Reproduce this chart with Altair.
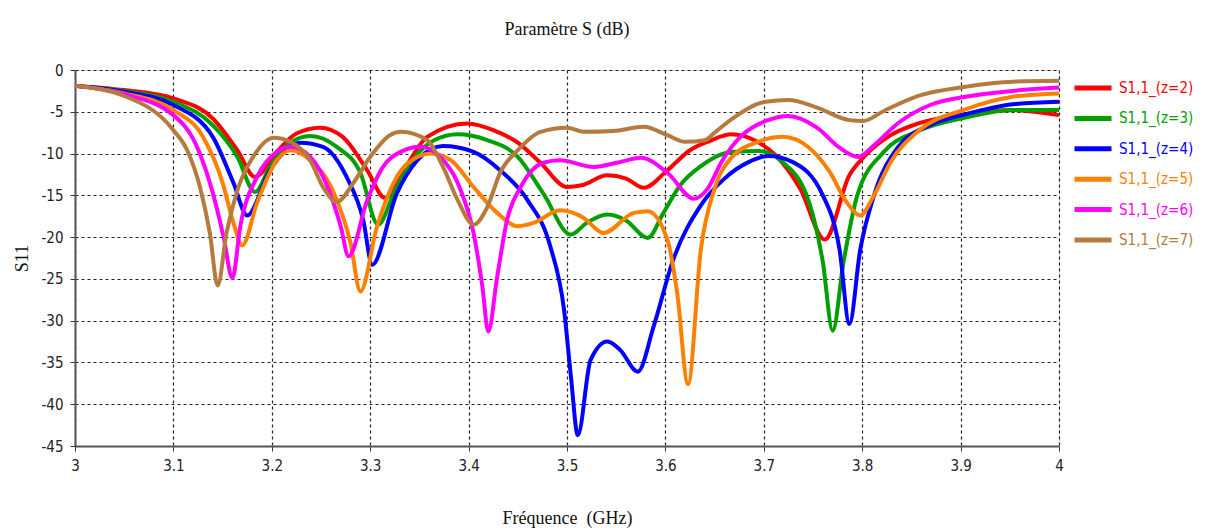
import altair as alt
import pandas as pd

names = ["S1,1_(z=2)", "S1,1_(z=3)", "S1,1_(z=4)", "S1,1_(z=5)", "S1,1_(z=6)", "S1,1_(z=7)"]
colors = ["#FF0000", "#00A000", "#0000FF", "#FF8000", "#FF00FF", "#B57B3E"]

f_z2 = [3.0, 3.05, 3.1, 3.14, 3.165, 3.183, 3.205, 3.225, 3.249, 3.272, 3.297, 3.315, 3.334, 3.358, 3.399,
        3.425, 3.45, 3.473, 3.5, 3.515, 3.541, 3.56, 3.578, 3.602, 3.625, 3.645, 3.667, 3.692, 3.712, 3.737,
        3.762, 3.787, 3.801, 3.829, 3.857, 3.905, 3.953, 4.0]
s_z2 = [-1.9, -2.4, -3.4, -5.8, -9.6, -12.8, -9.8, -7.6, -6.9, -8.0, -12.0, -15.3, -12.0, -8.0, -6.4,
        -7.2, -8.7, -11.1, -14.0, -13.8, -12.6, -13.0, -14.1, -12.0, -9.6, -8.5, -7.7, -8.5, -10.2, -14.2,
        -20.3, -12.6, -10.5, -7.8, -6.4, -5.3, -4.8, -5.4]

f_z3 = [3.0, 3.05, 3.1, 3.14, 3.165, 3.183, 3.198, 3.219, 3.239, 3.266, 3.29, 3.308, 3.325, 3.345, 3.365,
        3.389, 3.419, 3.45, 3.476, 3.504, 3.52, 3.541, 3.56, 3.582, 3.598, 3.615, 3.636, 3.667, 3.695, 3.719,
        3.746, 3.76, 3.77, 3.781, 3.795, 3.822, 3.857, 3.905, 3.953, 4.0]
s_z3 = [-1.9, -2.5, -3.8, -6.6, -10.4, -14.6, -11.6, -8.7, -7.9, -9.2, -12.3, -18.5, -14.5, -10.5, -8.4,
        -7.7, -8.4, -10.4, -14.8, -19.7, -18.3, -17.3, -18.0, -20.1, -17.1, -13.8, -11.5, -9.8, -9.7, -11.0,
        -15.8, -23.0, -31.2, -23.0, -15.0, -9.8, -7.3, -5.7, -4.8, -4.8]

f_z4 = [3.0, 3.05, 3.1, 3.14, 3.161, 3.175, 3.198, 3.229, 3.252, 3.276, 3.293, 3.302, 3.327, 3.348, 3.374,
        3.405, 3.432, 3.46, 3.483, 3.497, 3.504, 3.511, 3.524, 3.541, 3.554, 3.572, 3.588, 3.608, 3.636, 3.66,
        3.685, 3.705, 3.729, 3.76, 3.777, 3.787, 3.798, 3.812, 3.836, 3.871, 3.905, 3.953, 4.0]
s_z4 = [-1.9, -2.6, -4.2, -8.0, -13.5, -17.4, -12.0, -8.7, -9.2, -12.8, -18.0, -23.3, -14.8, -10.8, -9.1,
        -9.8, -12.0, -15.6, -21.1, -28.7, -36.7, -43.7, -34.7, -32.5, -33.5, -36.1, -30.7, -22.7, -16.2, -13.0,
        -11.0, -10.3, -11.0, -15.0, -21.5, -30.4, -21.5, -15.0, -9.3, -6.5, -5.3, -4.1, -3.8]

f_z5 = [3.0, 3.05, 3.1, 3.13, 3.15, 3.161, 3.17, 3.185, 3.205, 3.219, 3.239, 3.263, 3.28, 3.29, 3.307,
        3.327, 3.348, 3.361, 3.382, 3.405, 3.429, 3.45, 3.466, 3.493, 3.517, 3.537, 3.568, 3.582, 3.602, 3.612,
        3.623, 3.636, 3.65, 3.667, 3.692, 3.719, 3.746, 3.767, 3.784, 3.798, 3.812, 3.829, 3.857, 3.905, 3.953, 4.0]
s_z5 = [-1.9, -2.8, -4.8, -8.0, -13.5, -18.3, -21.0, -15.9, -10.8, -9.6, -10.8, -14.7, -20.7, -26.5, -18.7,
        -12.8, -10.4, -10.0, -10.8, -14.0, -17.1, -18.7, -18.3, -16.8, -17.7, -19.5, -17.1, -16.9, -20.3, -26.7,
        -37.6, -21.5, -14.2, -10.5, -8.7, -8.0, -9.3, -12.2, -15.8, -17.4, -15.0, -11.0, -7.3, -4.7, -3.2, -2.8]

f_z6 = [3.0, 3.05, 3.1, 3.124, 3.14, 3.151, 3.16, 3.168, 3.185, 3.205, 3.219, 3.239, 3.259, 3.27, 3.278,
        3.297, 3.313, 3.331, 3.351, 3.371, 3.392, 3.405, 3.414, 3.42, 3.429, 3.439, 3.453, 3.476, 3.493, 3.527,
        3.551, 3.575, 3.602, 3.629, 3.643, 3.657, 3.678, 3.702, 3.725, 3.754, 3.777, 3.796, 3.812, 3.836, 3.871,
        3.905, 3.953, 4.0]
s_z6 = [-1.9, -2.9, -5.4, -9.2, -14.7, -20.0, -24.9, -18.7, -12.8, -9.8, -9.2, -10.4, -14.7, -18.7, -22.3,
        -15.6, -11.6, -9.8, -9.2, -10.4, -14.4, -19.5, -25.9, -31.3, -24.8, -18.0, -14.0, -11.1, -10.8, -11.6,
        -11.1, -10.5, -12.3, -15.4, -14.2, -11.0, -7.8, -6.1, -5.5, -6.9, -9.3, -10.4, -9.0, -6.4, -4.1,
        -3.2, -2.5, -2.1]

f_z7 = [3.0, 3.05, 3.1, 3.114, 3.127, 3.137, 3.145, 3.154, 3.165, 3.181, 3.202, 3.219, 3.239, 3.252, 3.266,
        3.283, 3.3, 3.32, 3.331, 3.358, 3.374, 3.389, 3.405, 3.419, 3.432, 3.45, 3.473, 3.5, 3.517, 3.547,
        3.578, 3.602, 3.62, 3.64, 3.65, 3.667, 3.702, 3.725, 3.754, 3.787, 3.801, 3.822, 3.857, 3.905, 3.953, 4.0]
s_z7 = [-1.9, -3.1, -7.2, -9.6, -14.0, -19.5, -25.8, -19.5, -14.4, -10.4, -8.1, -8.6, -10.8, -14.0, -15.8,
        -13.5, -10.4, -7.8, -7.4, -8.4, -11.6, -15.6, -18.5, -16.4, -12.3, -9.6, -7.4, -6.9, -7.4, -7.3,
        -6.8, -7.8, -8.6, -8.4, -7.5, -5.9, -3.8, -3.6, -4.5, -6.0, -6.1, -4.9, -3.1, -2.0, -1.4, -1.3]

x_ticks = [3.0, 3.1, 3.2, 3.3, 3.4, 3.5, 3.6, 3.7, 3.8, 3.9, 4.0]
y_ticks = [0, -5, -10, -15, -20, -25, -30, -35, -40, -45]

series = [(f_z2, s_z2), (f_z3, s_z3), (f_z4, s_z4), (f_z5, s_z5), (f_z6, s_z6), (f_z7, s_z7)]
rows = []
for i, (fs, ss) in enumerate(series):
    for j, (f, s) in enumerate(zip(fs, ss)):
        rows.append({"serie": names[i], "k": i, "j": j, "f": f, "s11": s})
df = pd.DataFrame(rows)

sans = "Liberation Sans Narrow, DejaVu Sans Condensed, Liberation Sans, sans-serif"
serif = "Liberation Serif, Times New Roman, serif"
label_expr = "replace(format(datum.value, '~f'), '\u2212', '-')"

chart = alt.Chart(df).mark_line(interpolate="monotone", strokeWidth=4).encode(
    x=alt.X("f:Q", scale=alt.Scale(domain=[3, 4], nice=False, zero=False),
            axis=alt.Axis(values=x_ticks, labelExpr=label_expr, title="Fréquence\u00a0 (GHz)",
                          titleX=492, titleY=72, titleBaseline="middle",
                          titleFont=serif, titleFontSize=18, titleFontWeight="normal", titleColor="#111",
                          labelFont=sans, labelFontSize=15, labelColor="#222", labelPadding=7,
                          tickSize=5, grid=True, gridDash=[3, 3], gridColor="#222", gridWidth=1.2,
                          domainColor="#555", domainWidth=2, tickColor="#333", labelFlush=False)),
    y=alt.Y("s11:Q", scale=alt.Scale(domain=[-45, 0], nice=False, zero=False),
            axis=alt.Axis(values=y_ticks, labelExpr=label_expr, title="S11",
                          titleX=-53, titleY=188, titleBaseline="middle", titleAngle=-90,
                          titleFont=serif, titleFontSize=18, titleFontWeight="normal", titleColor="#111",
                          labelFont=sans, labelFontSize=15, labelColor="#222", labelPadding=7,
                          tickSize=5, grid=True, gridDash=[3, 3], gridColor="#222", gridWidth=1.2,
                          domainColor="#555", domainWidth=2, tickColor="#333")),
    color=alt.Color("serie:N", scale=alt.Scale(domain=names, range=colors),
                    legend=alt.Legend(title=None, orient="none", legendX=997, legendY=3,
                                      symbolType="stroke", symbolSize=1369, symbolStrokeWidth=5,
                                      clipHeight=30, rowPadding=0.4, labelOffset=5, padding=0,
                                      labelFont=sans, labelFontSize=15, labelLimit=200,
                                      labelColor={"expr": "scale('color', datum.label)"})),
    order=alt.Order("j:Q"),
    detail="k:N",
).properties(
    width=984, height=376,
    title=alt.TitleParams("Paramètre S (dB)", font=serif, fontSize=18, fontWeight="normal",
                          color="#111", offset=24, anchor="middle", frame="group"),
    padding={"left": 67, "top": 62, "right": 139, "bottom": 86},
    autosize=alt.AutoSizeParams(type="none"),
).configure_view(stroke="#777", strokeWidth=1.5).configure(background="white")

chart.save("out.html", embed_options={"renderer": "svg", "actions": False})
